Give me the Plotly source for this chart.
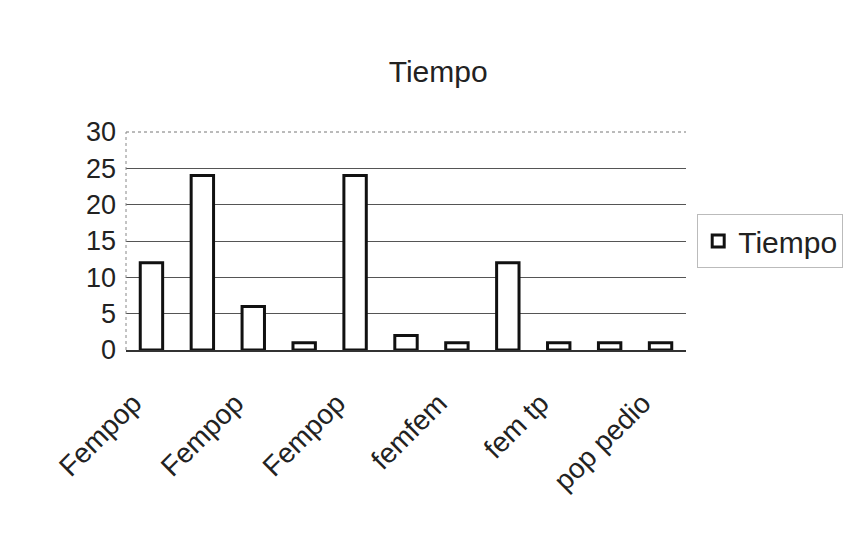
import plotly.graph_objects as go

positions = list(range(11))
tiempo = [12, 24, 6, 1, 24, 2, 1, 12, 1, 1, 1]
tick_positions = [0, 2, 4, 6, 8, 10]
tick_labels = ["Fempop", "Fempop", "Fempop", "femfem", "fem tp", "pop pedio"]

fig = go.Figure()
fig.add_trace(go.Bar(
    x=positions, y=tiempo, name="Tiempo",
    marker=dict(color="white", line=dict(color="#111", width=3)),
    width=0.44,
))

fig.update_layout(
    width=862, height=535,
    paper_bgcolor="white", plot_bgcolor="white",
    font=dict(family="Liberation Sans, Arial, sans-serif", color="#222", size=27),
    title=dict(text="Tiempo", x=0.499, xanchor="center", y=0.882, yanchor="middle",
               font=dict(size=30, color="#222")),
    margin=dict(l=118, r=184, t=124, b=193),
    showlegend=True,
    legend=dict(x=1.02, y=0.5, xanchor="left", yanchor="middle",
                bordercolor="#bbb", borderwidth=1, font=dict(size=30, color="#222"),
                bgcolor="white", itemwidth=30),
    xaxis=dict(range=[-0.5, 10.5], tickmode="array", tickvals=tick_positions,
               ticktext=tick_labels, tickangle=-45, showgrid=False,
               showline=True, linecolor="#333", linewidth=1.5, ticks="",
               ticklabelstandoff=24, ticklabelshift=-18,
               tickfont=dict(size=28, color="#222")),
    yaxis=dict(range=[0, 30], tickvals=[0, 5, 10, 15, 20, 25, 30],
               showgrid=True, gridcolor="#555", gridwidth=1.3,
               showline=False, ticks="", ticklabelstandoff=9,
               tickfont=dict(size=27, color="#222"), zeroline=False),
)
fig.add_shape(type="line", xref="paper", yref="paper", x0=0, x1=1, y0=1, y1=1,
              line=dict(color="#777", width=1, dash="dot"))
fig.add_shape(type="line", xref="paper", yref="paper", x0=0, x1=0, y0=0, y1=1,
              line=dict(color="#888", width=1, dash="dot"))

fig.write_html("out.html")
